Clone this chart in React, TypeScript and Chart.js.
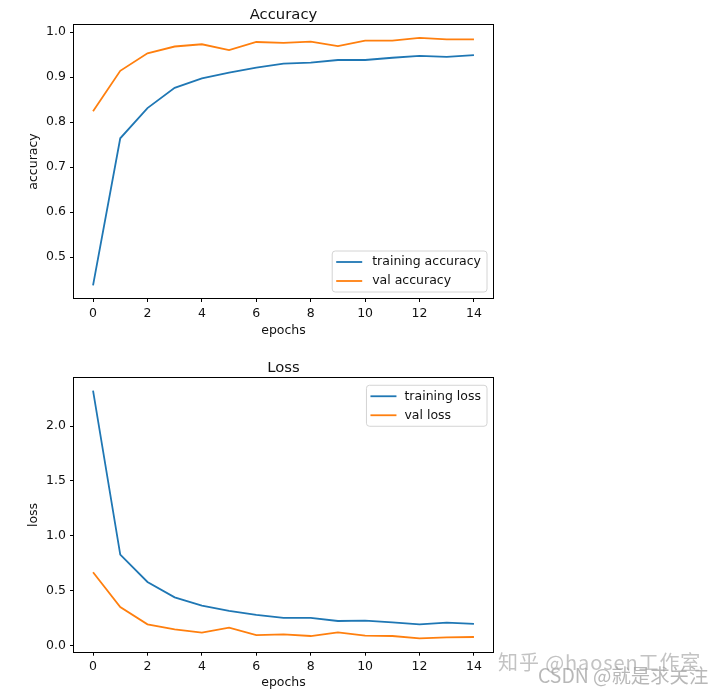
import React, { useEffect, useRef } from 'react';
import { Chart, registerables } from 'chart.js';

Chart.register(...registerables);

// ---------- data ----------
const epochs = [0, 1, 2, 3, 4, 5, 6, 7, 8, 9, 10, 11, 12, 13, 14];
const trainingAccuracy = [0.437, 0.764, 0.831, 0.876, 0.897, 0.910, 0.921, 0.930, 0.932, 0.938, 0.938, 0.943, 0.947, 0.945, 0.949];
const valAccuracy = [0.824, 0.914, 0.953, 0.968, 0.973, 0.960, 0.978, 0.976, 0.979, 0.969, 0.981, 0.981, 0.987, 0.984, 0.984];
const trainingLoss = [2.323, 0.828, 0.578, 0.438, 0.362, 0.314, 0.277, 0.250, 0.250, 0.222, 0.225, 0.210, 0.192, 0.207, 0.195];
const valLoss = [0.667, 0.350, 0.192, 0.146, 0.116, 0.161, 0.094, 0.100, 0.085, 0.119, 0.088, 0.085, 0.064, 0.073, 0.076];
const xTicks = [0, 2, 4, 6, 8, 10, 12, 14];
const accuracyTicks = [0.5, 0.6, 0.7, 0.8, 0.9, 1.0];
const lossTicks = [0.0, 0.5, 1.0, 1.5, 2.0];

const FONT = 'DejaVu Sans';
const TICK_SIZE = 12.5;
const TITLE_SIZE = 14.8;
const BLUE = '#1f77b4';
const ORANGE = '#ff7f0e';
const TEXT = '#111';

const framePlugin = {
  id: 'frame',
  afterDraw(chart: any) {
    const { ctx, chartArea: ca } = chart;
    ctx.save();
    ctx.strokeStyle = '#000';
    ctx.lineWidth = 1;
    const l = Math.round(ca.left) - 0.5;
    const t = Math.round(ca.top) - 0.5;
    const r = Math.round(ca.right) + 0.5;
    const b = Math.round(ca.bottom) + 0.5;
    ctx.strokeRect(l, t, r - l, b - t);
    ctx.restore();
  },
};

const innerLegendPlugin = {
  id: 'innerLegend',
  afterDraw(chart: any, _args: any, opts: any) {
    if (!opts || !opts.corner) return;
    const { ctx, chartArea: ca } = chart;
    const ds = chart.data.datasets;
    ctx.save();
    ctx.font = `${TICK_SIZE}px "${FONT}"`;
    const tw = Math.max(...ds.map((d: any) => ctx.measureText(d.label).width));
    const padL = 4;
    const lineLen = 26;
    const gap = opts.gap ?? 10;
    const padR = 6;
    const w = padL + lineLen + gap + tw + padR;
    const h = 41;
    const right = ca.right - 6;
    const left = right - w;
    const top = opts.corner === 'upper right' ? ca.top + 7 : ca.bottom - 6 - h;
    ctx.beginPath();
    const rad = 3;
    ctx.moveTo(left + rad, top);
    ctx.lineTo(left + w - rad, top);
    ctx.quadraticCurveTo(left + w, top, left + w, top + rad);
    ctx.lineTo(left + w, top + h - rad);
    ctx.quadraticCurveTo(left + w, top + h, left + w - rad, top + h);
    ctx.lineTo(left + rad, top + h);
    ctx.quadraticCurveTo(left, top + h, left, top + h - rad);
    ctx.lineTo(left, top + rad);
    ctx.quadraticCurveTo(left, top, left + rad, top);
    ctx.closePath();
    ctx.fillStyle = 'rgba(255,255,255,0.85)';
    ctx.fill();
    ctx.strokeStyle = '#d4d4d4';
    ctx.lineWidth = 1;
    ctx.stroke();
    ds.forEach((d: any, i: number) => {
      const cy = top + 11 + i * 19;
      ctx.beginPath();
      ctx.strokeStyle = d.borderColor;
      ctx.lineWidth = d.borderWidth;
      ctx.moveTo(left + padL, cy);
      ctx.lineTo(left + padL + lineLen, cy);
      ctx.stroke();
      ctx.fillStyle = TEXT;
      ctx.textBaseline = 'middle';
      ctx.textAlign = 'left';
      ctx.fillText(d.label, left + padL + lineLen + gap, cy);
    });
    ctx.restore();
  },
};

type PanelProps = {
  width: number;
  height: number;
  title: string;
  yLabel: string;
  labels: [string, string];
  series: [number[], number[]];
  yMin: number;
  yMax: number;
  yTicks: number[];
  titleTop: number;
  titleBottom: number;
  xAxisHeight: number;
  padBottom: number;
  corner: string;
  legendGap: number;
};

function Panel(p: PanelProps) {
  const ref = useRef<HTMLCanvasElement | null>(null);
  useEffect(() => {
    if (!ref.current) return;
    const tickFont = { family: FONT, size: TICK_SIZE, weight: 'normal' as const };
    const chart = new Chart(ref.current, {
      type: 'line',
      data: {
        datasets: [
          {
            label: p.labels[0],
            data: epochs.map((x, i) => ({ x, y: p.series[0][i] })),
            borderColor: BLUE,
            backgroundColor: BLUE,
            borderWidth: 1.8,
            pointRadius: 0,
            tension: 0,
            fill: false,
          },
          {
            label: p.labels[1],
            data: epochs.map((x, i) => ({ x, y: p.series[1][i] })),
            borderColor: ORANGE,
            backgroundColor: ORANGE,
            borderWidth: 1.8,
            pointRadius: 0,
            tension: 0,
            fill: false,
          },
        ],
      },
      options: {
        responsive: false,
        animation: false,
        events: [],
        layout: { padding: { left: 0, right: 231, top: 0, bottom: p.padBottom } },
        plugins: {
          legend: { display: false },
          tooltip: { enabled: false },
          title: {
            display: true,
            text: p.title,
            fullSize: false,
            color: TEXT,
            font: { family: FONT, size: TITLE_SIZE, weight: 'normal' },
            padding: { top: p.titleTop, bottom: p.titleBottom },
          },
          innerLegend: { corner: p.corner, gap: p.legendGap },
        } as any,
        scales: {
          x: {
            type: 'linear',
            min: -0.7,
            max: 14.7,
            afterBuildTicks: (s: any) => {
              s.ticks = xTicks.map((v) => ({ value: v }));
            },
            afterFit: (s: any) => {
              s.height = p.xAxisHeight;
            },
            ticks: {
              font: tickFont,
              color: TEXT,
              padding: 4,
              autoSkip: false,
              maxRotation: 0,
              callback: (v: any) => String(v),
            },
            grid: {
              display: true,
              drawOnChartArea: false,
              drawTicks: true,
              tickLength: 4,
              tickColor: '#000',
              tickWidth: 1,
            },
            border: { display: false },
            title: {
              display: true,
              text: 'epochs',
              color: TEXT,
              font: tickFont,
              padding: { top: 0, bottom: 0 },
            },
          },
          y: {
            type: 'linear',
            min: p.yMin,
            max: p.yMax,
            afterBuildTicks: (s: any) => {
              s.ticks = p.yTicks.map((v) => ({ value: v }));
            },
            afterFit: (s: any) => {
              s.width = 74;
            },
            ticks: {
              font: tickFont,
              color: TEXT,
              padding: 4,
              autoSkip: false,
              callback: (v: any) => Number(v).toFixed(1),
            },
            grid: {
              display: true,
              drawOnChartArea: false,
              drawTicks: true,
              tickLength: 4,
              tickColor: '#000',
              tickWidth: 1,
            },
            border: { display: false },
            title: {
              display: true,
              text: p.yLabel,
              color: TEXT,
              font: tickFont,
              padding: { top: 26.5, bottom: 0 },
            },
          },
        },
      },
      plugins: [framePlugin, innerLegendPlugin],
    } as any);
    return () => chart.destroy();
  }, []);
  return (
    <canvas
      ref={ref}
      width={p.width}
      height={p.height}
      style={{ display: 'block', width: p.width, height: p.height }}
    />
  );
}

export default function App() {
  return (
    <div
      style={{
        position: 'absolute',
        left: 0,
        top: 0,
        width: 724,
        height: 694,
        background: '#fff',
        overflow: 'hidden',
      }}
    >
      <div style={{ position: 'absolute', left: 0, top: 0 }}>
        <Panel
          width={724}
          height={345}
          title="Accuracy"
          yLabel="accuracy"
          labels={['training accuracy', 'val accuracy']}
          series={[trainingAccuracy, valAccuracy]}
          yMin={0.409}
          yMax={1.0158}
          yTicks={accuracyTicks}
          titleTop={5.8}
          titleBottom={1.44}
          xAxisHeight={40.5}
          padBottom={6.5}
          corner="lower right"
          legendGap={10}
        />
      </div>
      <div style={{ position: 'absolute', left: 0, top: 345 }}>
        <Panel
          width={724}
          height={349}
          title="Loss"
          yLabel="loss"
          labels={['training loss', 'val loss']}
          series={[trainingLoss, valLoss]}
          yMin={-0.058}
          yMax={2.436}
          yTicks={lossTicks}
          titleTop={13.8}
          titleBottom={1.7}
          xAxisHeight={39}
          padBottom={3.3}
          corner="upper right"
          legendGap={8}
        />
      </div>
      <div
        style={{
          position: 'absolute',
          left: 498,
          top: 651,
          fontFamily: '"Noto Sans CJK SC", "Noto Sans", sans-serif',
          fontSize: 20,
          letterSpacing: 0.9,
          lineHeight: '22px',
          color: 'rgba(175,175,175,0.75)',
          whiteSpace: 'nowrap',
        }}
      >
        知乎 @haosen工作室
      </div>
      <div
        style={{
          position: 'absolute',
          left: 538,
          top: 664,
          fontFamily: '"Noto Sans CJK SC", "Noto Sans", sans-serif',
          fontSize: 19.4,
          lineHeight: '22px',
          color: 'rgba(160,160,160,0.75)',
          whiteSpace: 'nowrap',
        }}
      >
        CSDN @就是求关注
      </div>
    </div>
  );
}
